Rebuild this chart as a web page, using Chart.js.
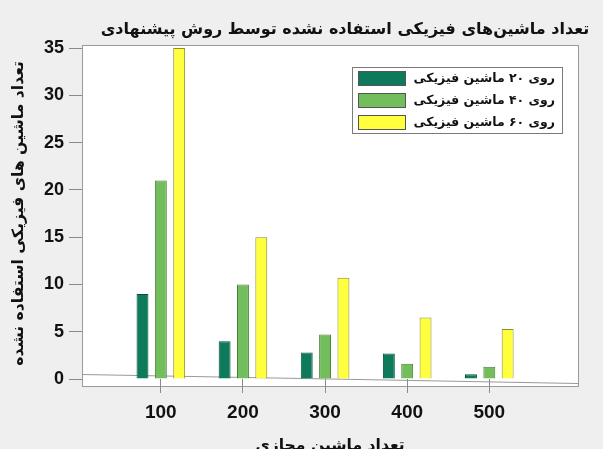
<!DOCTYPE html>
<html>
<head>
<meta charset="utf-8">
<script src="https://cdn.jsdelivr.net/npm/chart.js@4.4.1/dist/chart.umd.min.js"></script>
<style>
  html, body { margin: 0; padding: 0; background: #efefef; }
  #wrap { width: 603px; height: 449px; }
</style>
</head>
<body>
<div id="wrap"><canvas id="unusedChart" width="603" height="449"></canvas></div>
<script>
// داده‌ها
var vmCounts = [100, 200, 300, 400, 500];
var on20 = [9, 4, 2.8, 2.7, 0.5];
var on40 = [21, 10, 4.7, 1.6, 1.3];
var on60 = [35, 15, 10.7, 6.5, 5.3];
var seriesLabels = ['روی ۲۰ ماشین فیزیکی', 'روی ۴۰ ماشین فیزیکی', 'روی ۶۰ ماشین فیزیکی'];
var yTicks = [0, 5, 10, 15, 20, 25, 30, 35];

var chartTitle = 'تعداد ماشین‌های فیزیکی استفاده نشده توسط روش پیشنهادی';
var yTitle = 'تعداد ماشین های فیزیکی استفاده نشده';
var xTitle = 'تعداد ماشین مجازی';

var faFont = '"DejaVu Sans", sans-serif';
var numFont = '"Liberation Sans", Arial, sans-serif';

// اندازه قلم را طوری پیدا کن که متن در عرض داده شده جا شود
var measureCtx = document.createElement('canvas').getContext('2d');
function fitSize(text, width, maxSize) {
    measureCtx.font = 'bold 20px ' + faFont;
    var w = measureCtx.measureText(text).width;
    return Math.min(maxSize, Math.floor(20 * width / w * 10) / 10);
}
var titleSize = fitSize(chartTitle, 490, 18);
var legendSize = fitSize(seriesLabels[0], 142, 16);
var yTitleSize = fitSize(yTitle, 306, 18);
var xTitleSize = fitSize(xTitle, 150, 18);

function points(values) {
    return values.map(function(v, i) { return { x: vmCounts[i], y: v }; });
}

// پس‌زمینه، قاب ناحیه رسم، عنوان و راهنما
var framePlugin = {
    id: 'frame',
    beforeDraw: function(chart) {
        var ctx = chart.ctx, a = chart.chartArea;
        ctx.save();
        ctx.fillStyle = '#ffffff';
        ctx.fillRect(a.left, a.top - 3, a.right - a.left, a.bottom - a.top + 10);
        ctx.strokeStyle = '#9a9a9a';
        ctx.lineWidth = 1;
        ctx.strokeRect(a.left + 0.5, a.top - 2.5, a.right - a.left, a.bottom - a.top + 10);
        ctx.beginPath();
        ctx.moveTo(a.left, a.bottom - 4.5);
        ctx.lineTo(a.right, a.bottom + 4.5);
        ctx.stroke();
        ctx.restore();
    },
    afterDraw: function(chart) {
        var ctx = chart.ctx, a = chart.chartArea;
        ctx.save();
        ctx.fillStyle = '#111';
        ctx.font = 'bold ' + titleSize + 'px ' + faFont;
        ctx.textAlign = 'center';
        ctx.textBaseline = 'middle';
        ctx.direction = 'rtl';
        ctx.fillText(chartTitle, 345, 30);

        var bx = a.right - 226, by = a.top + 19, bw = 210, bh = 66;
        ctx.fillStyle = '#ffffff';
        ctx.fillRect(bx, by, bw, bh);
        ctx.strokeStyle = '#7a7a7a';
        ctx.strokeRect(bx + 0.5, by + 0.5, bw, bh);
        ctx.font = 'bold ' + legendSize + 'px ' + faFont;
        ctx.textAlign = 'right';
        chart.data.datasets.forEach(function(ds, i) {
            var cy = by + 11 + i * 22;
            ctx.fillStyle = ds.backgroundColor;
            ctx.fillRect(bx + 6, cy - 7, 47, 14);
            ctx.strokeStyle = '#555';
            ctx.strokeRect(bx + 6.5, cy - 6.5, 47, 14);
            ctx.fillStyle = '#111';
            ctx.fillText(ds.label, bx + bw - 7, cy + 1);
        });
        ctx.restore();
    }
};

var dsStyle = [
    { bg: '#0c7a5b', border: '#0a4f3c' },
    { bg: '#72bd5c', border: '#4c7c38' },
    { bg: '#ffff3d', border: '#8d8d2c' }
];

new Chart(document.getElementById('unusedChart'), {
    type: 'bar',
    data: {
        datasets: [on20, on40, on60].map(function(vals, i) {
            return {
                label: seriesLabels[i],
                data: points(vals),
                backgroundColor: dsStyle[i].bg,
                borderColor: dsStyle[i].border,
                borderWidth: 1,
                categoryPercentage: 0.67,
                barPercentage: 0.65
            };
        })
    },
    options: {
        responsive: false,
        animation: false,
        layout: { padding: { left: 0, right: 25, top: 48, bottom: 0 } },
        plugins: {
            legend: { display: false },
            title: { display: false },
            tooltip: { enabled: false }
        },
        scales: {
            x: {
                type: 'linear',
                offset: false,
                min: 4,
                max: 608,
                afterBuildTicks: function(scale) {
                    scale.ticks = vmCounts.map(function(v) { return { value: v }; });
                },
                afterFit: function(scale) { scale.height = 70; },
                grid: { offset: false, drawOnChartArea: false, drawTicks: true, tickLength: 14, color: '#8a8a8a' },
                border: { display: false },
                ticks: {
                    color: '#111',
                    padding: 8,
                    maxRotation: 0,
                    font: { family: numFont, size: 19, weight: 'bold' },
                    callback: function(v) { return String(v); }
                },
                title: {
                    display: true,
                    text: xTitle,
                    color: '#111',
                    font: { family: faFont, size: xTitleSize, weight: 'bold' },
                    padding: { top: 0, bottom: -6 }
                }
            },
            y: {
                min: 0,
                max: 35,
                afterBuildTicks: function(scale) {
                    scale.ticks = yTicks.map(function(v) { return { value: v }; });
                },
                afterFit: function(scale) { scale.width = 82; },
                grid: { drawOnChartArea: false, drawTicks: true, tickLength: 13, color: '#8a8a8a' },
                border: { display: true, color: '#9a9a9a' },
                ticks: {
                    color: '#111',
                    padding: 5,
                    font: { family: numFont, size: 18, weight: 'bold' }
                },
                title: {
                    display: true,
                    text: yTitle,
                    color: '#111',
                    font: { family: faFont, size: yTitleSize, weight: 'bold' },
                    padding: { top: 10, bottom: 0 }
                }
            }
        }
    },
    plugins: [framePlugin]
});
</script>
</body>
</html>
